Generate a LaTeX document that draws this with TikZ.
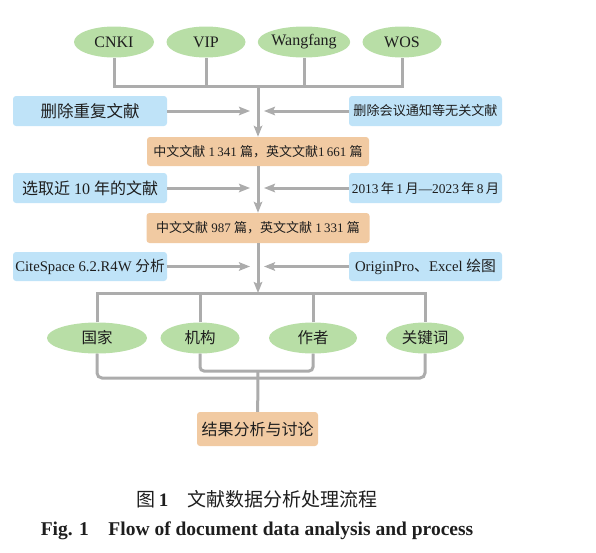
\documentclass[tikz,border=0pt]{standalone}
\usepackage{fontspec}
\setmainfont{Liberation Serif}
\newfontfamily\cjk{Noto Sans CJK SC}
\usepackage{tikz}
\usetikzlibrary{calc,arrows.meta,shapes.geometric}
\newcommand{\zhw}[1]{{\cjk #1}}
\newcommand{\fs}[1]{\fontsize{#1}{#1}\selectfont}
\definecolor{leafgreen}{RGB}{184,222,166}
\definecolor{skyblue}{RGB}{191,227,248}
\definecolor{peach}{RGB}{241,202,162}
\definecolor{linegray}{RGB}{172,172,172}
\definecolor{ink}{RGB}{30,30,30}

\begin{document}
\begin{tikzpicture}[x=1pt,y=-1pt,>={Stealth[length=11pt,width=8.5pt,inset=2pt]},text=ink]
      % Styles
      \tikzset{src/.style={ellipse,fill=leafgreen,minimum height=31pt,inner sep=0pt},
               note/.style={rectangle,rounded corners=3pt,fill=skyblue,minimum height=30pt,inner sep=0pt},
               tally/.style={rectangle,rounded corners=3pt,fill=peach,minimum height=30pt,inner sep=0pt},
               link/.style={draw=linegray,line width=3pt},
               feed/.style={link,->}}
      \useasboundingbox (0,0) rectangle (596,552);

      % databases
      \foreach \name/\x/\w/\txt in {cnki/114/80/CNKI,vip/206/79/VIP,wangfang/304/88/Wangfang,wos/402/79/WOS}{%
        \node[src,minimum width=\w pt,font=\fs{16}] (\name) at (\x,42) {\txt};
      }
      \coordinate (hubA) at (258,86);
      \draw[link] (cnki.south) |- (hubA) -| (wos.south);
      \draw[link] (vip.south) -- (vip.south |- hubA);
      \draw[link] (wangfang.south) -- (wangfang.south |- hubA);

      % first filter
      \node[note,minimum width=154pt,font=\fs{16.5}] (dupl) at (90,111) {\zhw{删除重复文献}};
      \node[note,minimum width=153pt,font=\fs{13.1}] (notice) at (425.5,111) {\zhw{删除会议通知等无关文献}};
      \node[tally,minimum width=222pt,minimum height=29pt,font=\fs{13}] (countA) at (258,151.5)
        {\zhw{中文文献} 1\,341 \zhw{篇，英文文献}1\,661 \zhw{篇}};
      \coordinate (inA) at (250,111);
      \coordinate (inB) at (264,111);
      \draw[feed] (hubA) -- (countA);
      \draw[feed] (dupl) -- (inA);
      \draw[feed] (notice) -- (inB);

      % second filter
      \node[note,minimum width=154pt,font=\fs{16}] (years) at (90,188) {\zhw{选取近} 10 \zhw{年的文献}};
      \node[note,minimum width=153pt,font=\fs{13.4}] (span) at (425.5,188) {2013\,\zhw{年}\,1\,\zhw{月}—2023\,\zhw{年}\,8\,\zhw{月}};
      \node[tally,minimum width=223pt,font=\fs{13}] (countB) at (258,228)
        {\zhw{中文文献} 987 \zhw{篇，英文文献} 1\,331 \zhw{篇}};
      \coordinate (inC) at (250,188);
      \coordinate (inD) at (264,188);
      \draw[feed] (countA) -- (countB);
      \draw[feed] (years) -- (inC);
      \draw[feed] (span) -- (inD);

      % tools
      \node[note,minimum width=154pt,minimum height=29pt,font=\fs{14.7}] (cite) at (90,266.5) {CiteSpace 6.2.R4W \zhw{分析}};
      \node[note,minimum width=153pt,minimum height=29pt,font=\fs{14.8}] (origin) at (425.5,266.5) {OriginPro\zhw{、}Excel \zhw{绘图}};
      \coordinate (inE) at (250,266.5);
      \coordinate (inF) at (264,266.5);
      \coordinate (hubB) at (258,293);
      \draw[feed] (countB) -- (hubB);
      \draw[feed] (cite) -- (inE);
      \draw[feed] (origin) -- (inF);

      % analysis topics
      \foreach \name/\x/\w/\txt in {nation/97/100/国家,inst/200/79/机构,author/313/88/作者,keyword/425/78/关键词}{%
        \node[src,minimum width=\w pt,font=\fs{15.5}] (\name) at (\x,338) {\zhw{\txt}};
      }
      \draw[link] (nation.north) |- (hubB) -| (keyword.north);
      \draw[link] (inst.north) -- (inst.north |- hubB);
      \draw[link] (author.north) -- (author.north |- hubB);

      % merge into result
      \coordinate (hubC) at (258,378);
      \coordinate (hubD) at (258,371);
      \node[tally,minimum width=121pt,minimum height=34pt,font=\fs{16}] (result) at (257.5,429) {\zhw{结果分析与讨论}};
      \draw[link,rounded corners=5pt] (nation.south) |- (hubC) -| (keyword.south);
      \draw[link,rounded corners=4pt] (inst.south) |- (hubD) -| (author.south);
      \draw[link] (hubD) -- (result);

      % caption
      \node[font=\fs{19}] (capzh) at (257,499) {\zhw{图}\,\textbf{1}\quad\zhw{文献数据分析处理流程}};
      \node[font=\fs{19.5}\bfseries] (capen) at (257,531) {Fig. 1\quad Flow of document data analysis and process};
\end{tikzpicture}
\end{document}
